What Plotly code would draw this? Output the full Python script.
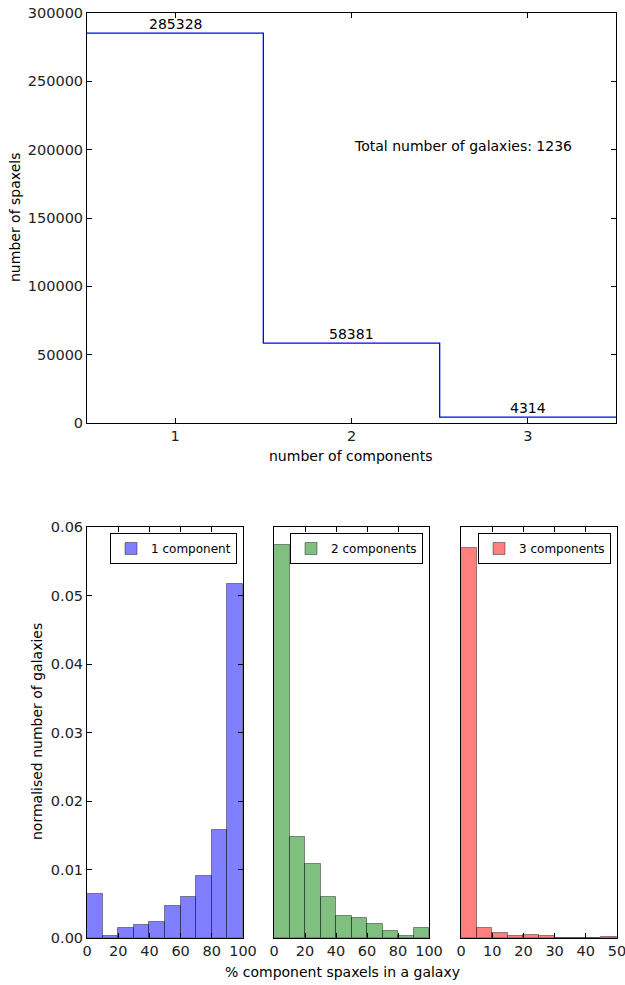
import plotly.graph_objects as go

# top panel: spaxel counts per number of components
n_components = [1, 2, 3]
n_spaxels = [285328, 58381, 4314]
total_galaxies = 1236

# bottom panels: normalised histograms of % component spaxels per galaxy
bins_1 = [0, 10, 20, 30, 40, 50, 60, 70, 80, 90, 100]
hist_1 = [0.00646, 0.00024, 0.00146, 0.00185, 0.00233, 0.00471, 0.00593, 0.00908, 0.0157, 0.0517]
bins_2 = [0, 10, 20, 30, 40, 50, 60, 70, 80, 90, 100]
hist_2 = [0.0574, 0.0148, 0.0108, 0.0060, 0.00316, 0.00287, 0.0020, 0.00097, 0.00024, 0.00146]
bins_3 = [0, 5, 10, 15, 20, 25, 30, 35, 40, 45, 50]
hist_3 = [0.0569, 0.00146, 0.00068, 0.00034, 0.00044, 0.00024, 0.00005, 0.0, 0.0, 0.00015]

labels = ["1 component", "2 components", "3 components"]
colors = ["rgba(0,0,255,0.5)", "rgba(0,128,0,0.5)", "rgba(255,0,0,0.5)"]

W, H = 625, 985
FONT = "DejaVu Sans"


def px(x):
    return x / W


def py(y):
    return 1 - y / H


fig = go.Figure()

# step line for top panel
edges = [c - 0.5 for c in n_components] + [n_components[-1] + 0.5]
fig.add_trace(go.Scatter(
    x=edges, y=n_spaxels + [n_spaxels[-1]],
    mode="lines", line=dict(color="#0000ff", width=1.3, shape="hv"),
    showlegend=False, xaxis="x", yaxis="y"))

for c, v in zip(n_components, n_spaxels):
    fig.add_annotation(x=c, y=v, xref="x", yref="y", text=str(v),
                       showarrow=False, yanchor="bottom", yshift=-1,
                       font=dict(size=14, color="black", family=FONT))
fig.add_annotation(x=2, y=203000, xref="x", yref="y",
                   text="Total number of galaxies: %d" % total_galaxies,
                   showarrow=False, xanchor="left", yanchor="middle",
                   font=dict(size=14, color="black", family=FONT))

# histogram panels
hists = [(bins_1, hist_1), (bins_2, hist_2), (bins_3, hist_3)]
for i, (b, h) in enumerate(hists):
    centers = [(b[k] + b[k + 1]) / 2 for k in range(len(h))]
    widths = [b[k + 1] - b[k] for k in range(len(h))]
    fig.add_trace(go.Bar(
        x=centers, y=h, width=widths, name=labels[i],
        marker=dict(color=colors[i], line=dict(color="rgba(0,0,0,0.4)", width=1)),
        xaxis="x%d" % (i + 2), yaxis="y%d" % (i + 2),
        legend="legend" if i == 0 else "legend%d" % (i + 1)))

axis_common = dict(showline=True, linecolor="black", linewidth=1, mirror="ticks",
                   ticks="inside", ticklen=5, tickcolor="black", showgrid=False,
                   zeroline=False, automargin=False, ticklabeloverflow="allow",
                   tickfont=dict(size=14.5, color="#222", family=FONT))

panel_x = [(87, 243), (274, 429), (461, 617)]
bottom_y = [py(938), py(527)]

layout = dict(
    width=W, height=H,
    margin=dict(l=0, r=0, t=0, b=0),
    paper_bgcolor="white", plot_bgcolor="white",
    font=dict(family=FONT, color="black"),
    bargap=0,
    xaxis=dict(domain=[px(87), px(616)], range=[0.5, 3.5], tickvals=n_components,
               anchor="y", **axis_common),
    yaxis=dict(domain=[py(423), py(13)], range=[0, 300000], dtick=50000,
               tickformat="d", anchor="x", **axis_common),
)

x_ranges = [[0, 100], [0, 100], [0, 50]]
x_dticks = [20, 20, 10]
for i in range(3):
    n = i + 2
    layout["xaxis%d" % n] = dict(domain=[px(panel_x[i][0]), px(panel_x[i][1])],
                                 range=x_ranges[i], dtick=x_dticks[i],
                                 anchor="y%d" % n, **axis_common)
    ya = dict(axis_common)
    if i > 0:
        ya.update(ticks="", showticklabels=False, mirror=True)
    layout["yaxis%d" % n] = dict(domain=bottom_y, range=[0, 0.06], dtick=0.01,
                                 tickformat=".2f", anchor="x%d" % n, **ya)
    key = "legend" if i == 0 else "legend%d" % (i + 1)
    layout[key] = dict(x=px(panel_x[i][1] - 6), y=py(533), xanchor="right", yanchor="top",
                       bordercolor="black", borderwidth=1, bgcolor="white",
                       font=dict(size=12, color="black", family=FONT),
                       itemwidth=30, tracegroupgap=0)

fig.update_layout(**layout)

# axis titles
titles = [
    dict(x=px(351), y=py(456), text="number of components", textangle=0),
    dict(x=px(15), y=py(218), text="number of spaxels", textangle=-90),
    dict(x=px(37), y=py(732), text="normalised number of galaxies", textangle=-90),
    dict(x=px(342), y=py(972), text="% component spaxels in a galaxy", textangle=0),
]
for t in titles:
    fig.add_annotation(xref="paper", yref="paper", showarrow=False,
                       xanchor="center", yanchor="middle",
                       font=dict(size=14, color="black", family=FONT), **t)

# the page body has a default margin; drop it so the figure fills the window
fig.write_html("out.html", config={"displayModeBar": False},
               post_script="document.body.style.margin='0';")
